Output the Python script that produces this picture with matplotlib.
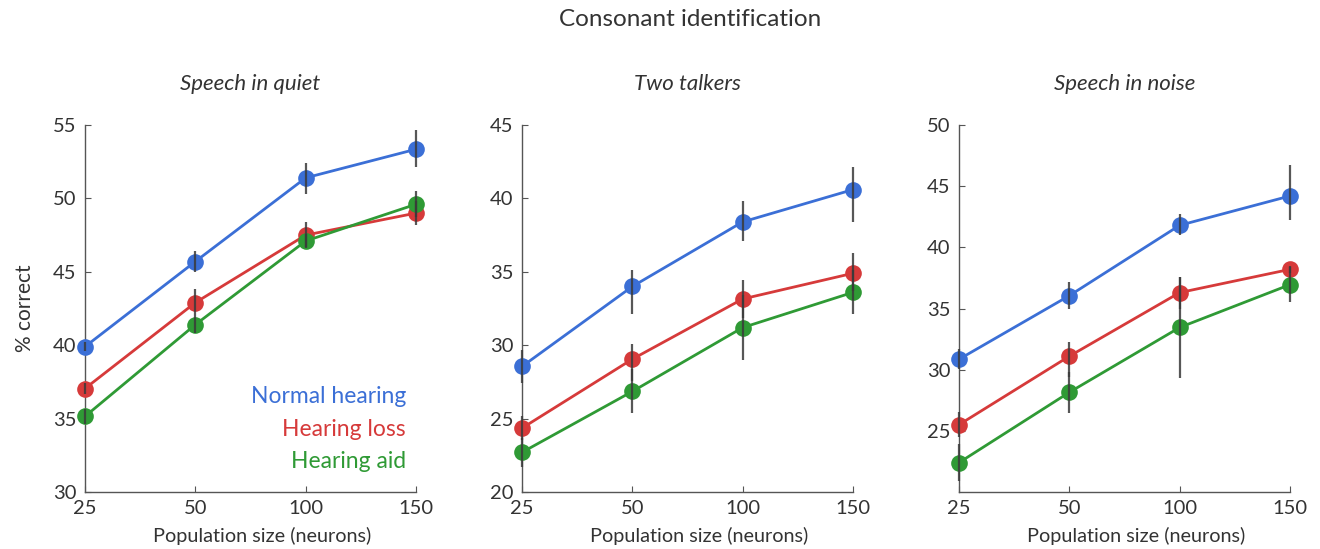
import matplotlib
matplotlib.use("Agg")
import matplotlib.pyplot as plt

plt.rcParams['font.family'] = ['Lato', 'DejaVu Sans']

sizes = ["25", "50", "100", "150"]
panel_titles = ["Speech in quiet", "Two talkers", "Speech in noise"]
series_names = ["Normal hearing", "Hearing loss", "Hearing aid"]
colors = ["#3b6fd6", "#d63a3a", "#2f9a35"]

# Panel 1: Speech in quiet
quiet_normal = [39.9, 45.7, 51.4, 53.35]
quiet_loss = [37.05, 42.9, 47.5, 49.0]
quiet_aid = [35.15, 41.4, 47.1, 49.6]
quiet_normal_lo = [0.3, 0.7, 1.1, 1.2]
quiet_normal_hi = [0.3, 0.75, 1.0, 1.3]
quiet_loss_lo = [0.4, 0.9, 0.8, 0.8]
quiet_loss_hi = [0.4, 0.9, 0.9, 0.8]
quiet_aid_lo = [0.5, 0.6, 0.5, 0.9]
quiet_aid_hi = [0.5, 0.6, 0.5, 0.9]

# Panel 2: Two talkers
talk_normal = [28.55, 34.0, 38.4, 40.6]
talk_loss = [24.35, 29.05, 33.15, 34.9]
talk_aid = [22.7, 26.85, 31.2, 33.6]
talk_normal_lo = [1.1, 1.85, 1.3, 2.2]
talk_normal_hi = [1.1, 1.15, 1.45, 1.55]
talk_loss_lo = [0.8, 1.5, 1.3, 1.2]
talk_loss_hi = [0.8, 1.0, 1.3, 1.4]
talk_aid_lo = [1.0, 1.5, 2.2, 1.5]
talk_aid_hi = [1.0, 1.5, 2.2, 1.5]

# Panel 3: Speech in noise
noise_normal = [30.85, 36.05, 41.8, 44.2]
noise_loss = [25.5, 31.1, 36.3, 38.2]
noise_aid = [22.4, 28.15, 33.45, 36.95]
noise_normal_lo = [0.8, 1.05, 0.8, 1.95]
noise_normal_hi = [0.8, 1.15, 0.95, 2.5]
noise_loss_lo = [1.0, 1.7, 1.3, 0.3]
noise_loss_hi = [1.0, 1.15, 1.3, 0.3]
noise_aid_lo = [1.5, 1.7, 4.15, 1.45]
noise_aid_hi = [1.5, 1.7, 4.15, 1.45]

panels = [
    ([quiet_normal, quiet_loss, quiet_aid],
     [(quiet_normal_lo, quiet_normal_hi), (quiet_loss_lo, quiet_loss_hi), (quiet_aid_lo, quiet_aid_hi)],
     (30, 55), [30, 35, 40, 45, 50, 55]),
    ([talk_normal, talk_loss, talk_aid],
     [(talk_normal_lo, talk_normal_hi), (talk_loss_lo, talk_loss_hi), (talk_aid_lo, talk_aid_hi)],
     (20, 45), [20, 25, 30, 35, 40, 45]),
    ([noise_normal, noise_loss, noise_aid],
     [(noise_normal_lo, noise_normal_hi), (noise_loss_lo, noise_loss_hi), (noise_aid_lo, noise_aid_hi)],
     (20, 50), [25, 30, 35, 40, 45, 50]),
]

W, H = 1320, 549
fig = plt.figure(figsize=(W / 100, H / 100), dpi=100)
lefts = [85, 522, 959]
axw = 331
bottom_px = 492
top_px = 125
text_col = "#333333"
spine_col = "#555555"

x = list(range(len(sizes)))
for i, (vals, errs, ylim, yticks) in enumerate(panels):
    ax = fig.add_axes([lefts[i] / W, (H - bottom_px) / H, axw / W, (bottom_px - top_px) / H])
    for s in range(3):
        ax.plot(x, vals[s], color=colors[s], lw=2, marker='o', ms=12,
                markeredgewidth=0, clip_on=False, zorder=3)
    for s in range(3):
        ax.errorbar(x, vals[s], yerr=[errs[s][0], errs[s][1]], fmt='none',
                    ecolor="#3a3a3a", elinewidth=1.6, capsize=0, clip_on=False,
                    zorder=4, alpha=0.85)
    ax.set_xlim(0, 3)
    ax.set_ylim(*ylim)
    ax.set_yticks(yticks)
    ax.set_xticks(x)
    ax.set_xticklabels(sizes)
    for sp in ['top', 'right']:
        ax.spines[sp].set_visible(False)
    for sp in ['left', 'bottom']:
        ax.spines[sp].set_color(spine_col)
        ax.spines[sp].set_linewidth(1.0)
    ax.tick_params(direction='in', length=4, width=0.8, color=spine_col,
                   labelsize=14.5, labelcolor=text_col, pad=6)
    ax.set_xlabel("Population size (neurons)", fontsize=14.3, color=text_col, labelpad=7)
    ax.xaxis.label.set_x(0.536)
    ax.set_title(panel_titles[i], fontsize=16, style='italic', color=text_col, pad=25)
    ax.patch.set_alpha(0)
    if i == 0:
        ax.set_ylabel("% correct", fontsize=15, color=text_col, labelpad=13)
        for s, yf in enumerate([0.259, 0.169, 0.082]):
            ax.text(0.97, yf, series_names[s], transform=ax.transAxes,
                    ha='right', va='center', color=colors[s], fontsize=16.5)

fig.text(690 / W, 1 - 20 / H, "Consonant identification", ha='center', va='center',
         fontsize=17.5, color=text_col)

fig.savefig("out.png", dpi=100)
